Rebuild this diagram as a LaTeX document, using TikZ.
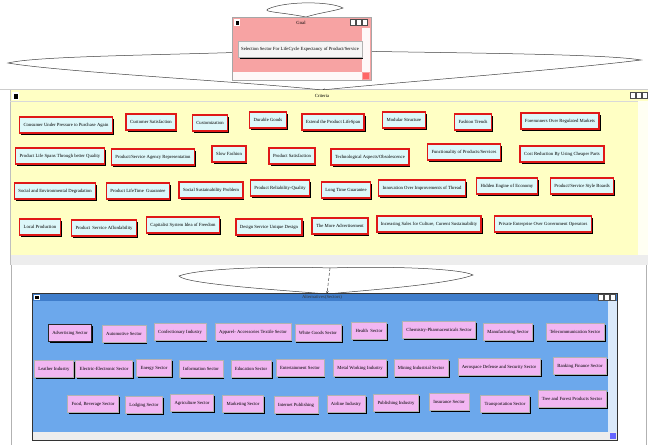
\documentclass[tikz,border=0pt]{standalone}
\usepackage{fontspec}
\setmainfont{Liberation Serif}
\usetikzlibrary{shadows,arrows.meta}
\definecolor{critfill}{HTML}{FFFFC4}
\definecolor{goalfill}{HTML}{F7A3A3}
\definecolor{altbody}{HTML}{6CA8EC}
\definecolor{alttitle}{HTML}{3F7DCB}
\definecolor{btncyan}{HTML}{DDF8FA}
\definecolor{btnpink}{HTML}{F2B6F2}
\definecolor{btnred}{HTML}{E01818}
\definecolor{scroll}{HTML}{EDEDED}
\newcommand\tinyf{\fontsize{4.7}{5.5}\selectfont}
\tikzset{
  bshadow/.style={drop shadow={shadow xshift=1.5pt,shadow yshift=-1.5pt,opacity=1,fill=black}},
  critbox/.style={bshadow,draw=btnred,line width=1.5pt,fill=btncyan,font=\tinyf,inner xsep=4pt,minimum height=16pt},
  altbox/.style={bshadow,draw=gray!60,line width=0.4pt,fill=btnpink,font=\tinyf,inner xsep=4pt,minimum height=17pt},
  selbox/.style={altbox,draw=black!85,line width=1.4pt},
  goalbtn/.style={bshadow,draw=gray!60,fill=gray!8,font=\tinyf,inner xsep=3pt,minimum height=16pt},
  wintitle/.style={font=\tinyf,inner sep=0pt},
  link/.style={draw=black!75,line width=0.5pt},
}
\begin{document}
\begin{tikzpicture}[x=1pt,y=-1pt]
\useasboundingbox (0,0) rectangle (648,445);
\fill[white] (0,0) rectangle (648,445);
% outer frame lines
\draw[gray!60,line width=0.6pt] (11,262) -- (11,445);
\draw[gray!60,line width=0.6pt] (646,262) -- (646,445);
\draw[gray!40,line width=0.6pt] (0,89) -- (648,89);

% ---------- connector loops (drawn first, behind windows)
\coordinate (gtop) at (306,17);
\coordinate (ctop) at (322,90);
\coordinate (gmid) at (300,50);
\coordinate (ltip) at (8,63);
\coordinate (rtip) at (641,60);
\coordinate (atop) at (327,294);
\coordinate (mtop) at (330,268);
\coordinate (mlt) at (179,276);
\coordinate (mrt) at (473,275);
\draw[link] (gtop) .. controls (280,12) and (262,12) .. (268,9) .. controls (285,1) and (330,1) .. (343,8) .. controls (335,11) and (318,13) .. (gtop);
\draw[link] (gmid) .. controls (200,55) and (40,55) .. (ltip) .. controls (60,72) and (250,82) .. (ctop);
\draw[link,-{Stealth[length=3pt,width=2.5pt]}] (gmid) .. controls (420,53) and (600,53) .. (rtip) .. controls (560,70) and (400,82) .. (ctop);
\draw[link] (atop) .. controls (280,290) and (185,284) .. (mlt) .. controls (200,268) and (280,266) .. (mtop) .. controls (380,266) and (460,268) .. (mrt) .. controls (450,284) and (370,290) .. (atop);
\draw[link,densely dashed,-{Stealth[length=3pt,width=2.5pt]}] (mtop) -- (atop);

% ---------- Goal window
\fill[goalfill] (232,17) rectangle (371,80);
\draw[gray!70,line width=0.5pt] (232,17) rectangle (371,80);
\fill[white!92!goalfill] (362,28) rectangle (370,72);
\fill[white!92!goalfill] (233,72) rectangle (362,80);
\fill[red!60] (363,73) rectangle (369,79);
\node[wintitle] (goaltitle) at (301,22.5) {Goal};
\fill[white] (234,19) rectangle (240,26);
\fill[black] (235.5,20.5) rectangle (238.5,24.5);
\foreach \bx in {350,356,362}{\draw[black!70,fill=white,line width=0.3pt] (\bx,19.5) rectangle (\bx+5,25.5);}
\node[goalbtn] (goal) at (300,49.5) {Selection Sector For LifeCycle Expectancy of Product/Service};

% ---------- Criteria window
\fill[critfill] (10,90) rectangle (648,265);
\draw[gray!50,line width=0.5pt] (10,90) -- (10,265);
\draw[gray!30,line width=0.4pt] (10,101) -- (638,101);
\fill[scroll] (11,255) rectangle (648,265);
\fill[white!80!critfill] (638,101) rectangle (648,255);
\node[wintitle] (crittitle) at (322,96) {Criteria};
\fill[white] (12,92) rectangle (19,100);
\fill[black] (13.5,93.5) rectangle (17.5,98.5);
\foreach \bx in {630,636,642}{\draw[black!70,fill=white,line width=0.3pt] (\bx,92.5) rectangle (\bx+5,98.5);}

\node[critbox] (c1) at (66,125) {Consumer Under Pressure to Purchase Again};
\node[critbox] (c2) at (151,122) {Customer Satisfaction};
\node[critbox] (c3) at (210,123) {Customization};
\node[critbox] (c4) at (268,120) {Durable Goods};
\node[critbox] (c5) at (333,122) {Extend the Product LifeSpan};
\node[critbox] (c6) at (404,120) {Modular Structure};
\node[critbox] (c7) at (473,122) {Fashion Trends};
\node[critbox] (c8) at (560,121) {Forerunners Over Regulated Markets};
\node[critbox] (c9) at (60,156) {Product Life Spans Through better Quality};
\node[critbox] (c10) at (153,157) {Product/Service Agency Representation};
\node[critbox] (c11) at (229,154) {Slow Fashion};
\node[critbox] (c12) at (292,156) {Product Satisfaction};
\node[critbox] (c13) at (370,157) {Technological Aspects/Obsolescence};
\node[critbox] (c14) at (464,152) {Functionality of Products/Services};
\node[critbox] (c15) at (562,154) {Cost Reduction By Using Cheaper Parts};
\node[critbox] (c16) at (55,191) {Social and Environmental Degradation};
\node[critbox] (c17) at (138,191) {Product LifeTime\ \ Guarantee};
\node[critbox] (c18) at (211,190) {Social Sustainability Problem};
\node[critbox] (c19) at (280,188) {Product Reliability-Quality};
\node[critbox] (c20) at (346,190) {Long Time Guarantee};
\node[critbox] (c21) at (422,188) {Innovation Over Improvements of Thread};
\node[critbox] (c22) at (507,186) {Hidden Engine of Economy};
\node[critbox] (c23) at (582,186) {Product/Service Style Boards};
\node[critbox] (c24) at (40,227) {Local Production};
\node[critbox] (c25) at (104,228) {Product\ \ Service Affordability};
\node[critbox] (c26) at (183,225) {Capitalist System Idea of Freedom};
\node[critbox] (c27) at (269,227) {Design Service Unique Design};
\node[critbox] (c28) at (340,226) {The More Advertisement};
\node[critbox] (c29) at (429,224) {Increasing Sales for Culture, Current Sustainability};
\node[critbox] (c30) at (543,224) {Private Enterprise Over Government Operators};

% ---------- Alternatives window
\fill[altbody] (32,293) rectangle (617,440);
\fill[alttitle] (32,293) rectangle (617,301);
\fill[scroll] (33,432) rectangle (617,440);
\fill[white!75!altbody] (608,301) rectangle (617,432);
\fill[blue!60] (610,433) rectangle (616,439);
\draw[black!80,line width=0.6pt] (32,293) rectangle (617,440);
\node[wintitle,text=black!80] (alttitle) at (322,297) {Alternatives(Sectors)};
\fill[white] (34,294.5) rectangle (40,300);
\fill[black] (35.3,295.5) rectangle (38.7,299);
\foreach \bx in {598,604,610}{\draw[black!70,fill=white,line width=0.3pt] (\bx,294.5) rectangle (\bx+5,300);}

\node[selbox] (a1) at (70,333) {Advertising Sector};
\node[altbox] (a2) at (124,334) {Automotive Sector};
\node[altbox] (a3) at (180,332) {Confectionary Industry};
\node[altbox] (a4) at (253,332) {Apparel- Accessories Textile Sector};
\node[altbox] (a5) at (318,333) {White Goods Sector};
\node[altbox] (a6) at (369,331) {Health\ \ Sector};
\node[altbox] (a7) at (439,330) {Chemistry-Pharmaceuticals Sector};
\node[altbox] (a8) at (508,332) {Manufacturing Sector};
\node[altbox] (a9) at (575,332) {Telecommunication Sector};
\node[altbox] (a10) at (54,369) {Leather Industry};
\node[altbox] (a11) at (104,369) {Electric-Electronic Sector};
\node[altbox] (a12) at (154,368) {Energy Sector};
\node[altbox] (a13) at (201,369) {Information Sector};
\node[altbox] (a14) at (251,369) {Education Sector};
\node[altbox] (a15) at (300,368) {Entertainment Sector};
\node[altbox] (a16) at (360,368) {Metal Working Industry};
\node[altbox] (a17) at (421,368) {Mining Industrial Sector};
\node[altbox] (a18) at (499,367) {Aerospace Defense and Security Sector};
\node[altbox] (a19) at (580,366) {Banking Finance Sector};
\node[altbox] (a20) at (93,404) {Food, Beverage Sector};
\node[altbox] (a21) at (144,405) {Lodging Sector};
\node[altbox] (a22) at (192,403) {Agriculture Sector};
\node[altbox] (a23) at (243,404) {Marketing Sector};
\node[altbox] (a24) at (296,405) {Internet Publishing};
\node[altbox] (a25) at (346,404) {Airline Industry};
\node[altbox] (a26) at (396,403) {Publishing Industry};
\node[altbox] (a27) at (449,402) {Insurance Sector};
\node[altbox] (a28) at (505,404) {Transportation Sector};
\node[altbox] (a29) at (572,399) {Tree and Forest Products Sector};
\end{tikzpicture}
\end{document}
